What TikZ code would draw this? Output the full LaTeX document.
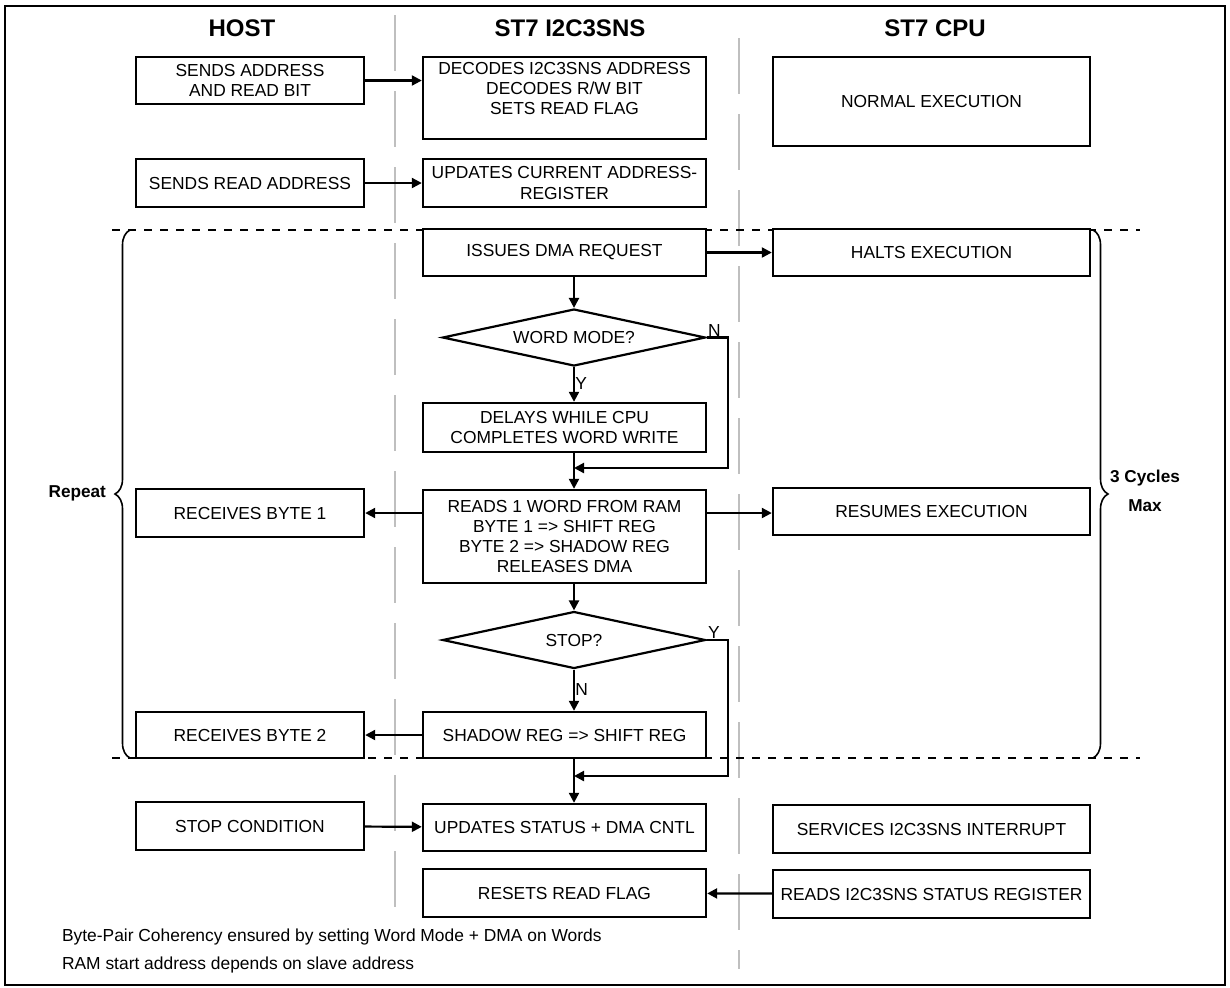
\documentclass[tikz,border=0pt]{standalone}
\usepackage{fontspec}
\setmainfont{Liberation Sans}
\usetikzlibrary{arrows.meta,calc,decorations.pathreplacing,shapes.geometric}
\newcommand{\boxfont}{\fontsize{8.7}{10}\selectfont}
\newcommand{\headfont}{\fontsize{12}{14}\selectfont\bfseries}
\newcommand{\notebf}{\fontsize{8.6}{14.5}\selectfont\bfseries}
\tikzset{
  stepbox/.style={draw, line width=1.2pt, fill=white, align=center, inner sep=2pt, font=\boxfont},
  hostbox/.style={stepbox, minimum width=114pt},
  snsbox/.style={stepbox, minimum width=141.5pt},
  cpubox/.style={stepbox, minimum width=158.5pt},
  decision/.style={diamond, aspect=4.6, draw, line width=1.1pt, fill=white, inner sep=0pt,
    minimum width=131.5pt, minimum height=28.5pt, font=\boxfont},
  flowarr/.style={-{Triangle[length=5pt,width=5pt]}, line width=1.1pt},
  lane/.style={black!25, line width=1pt, dash pattern=on 28pt off 10pt},
  repline/.style={dash pattern=on 4pt off 4pt, line width=1pt},
  bracket/.style={decorate, decoration={brace, amplitude=7.5pt}, line width=0.8pt},
  colhead/.style={font=\headfont},
  yn/.style={font=\boxfont, inner sep=0.5pt},
}

\begin{document}
\begin{tikzpicture}[x=0.5pt, y=-0.5pt]
  \useasboundingbox (0,0) rectangle (1230,987);
  \draw[line width=1.2pt] (5,6) rectangle (1225,985);
  % swim lanes
  \draw[lane] (395,15) -- (395,915);
  \draw[lane] (739,38) -- (739,969);
  \node[colhead] (hhost) at (242,28) {HOST};
  \node[colhead] (hsns) at (570,28) {ST7 I2C3SNS};
  \node[colhead] (hcpu) at (935,28) {ST7 CPU};
  % repeat band
  \coordinate (bandtl) at (112,230);
  \coordinate (bandtr) at (1140,230);
  \coordinate (bandbl) at (112,758);
  \coordinate (bandbr) at (1140,758);
  \draw[repline] (bandtl) -- (bandtr);
  \draw[repline] (bandbl) -- (bandbr);
  \draw[bracket] (130,758) -- (130,230);
  \draw[bracket] (1093,230) -- (1093,758);
  \node[font=\notebf, anchor=east] (rep) at (113,493) {Repeat};
  \node[font=\notebf, align=center] (cyc) at (1145,490.5) {3 Cycles\\Max};

  % address phase
  \node[hostbox, minimum height=23.5pt] (sendaddr) at (250,80.5) {SENDS ADDRESS\\AND READ BIT};
  \node[snsbox, minimum height=41pt] (decode) at (564.5,98)
    {DECODES I2C3SNS ADDRESS\\DECODES R/W BIT\\SETS READ FLAG\\\mbox{}};
  \node[cpubox, minimum height=44.5pt] (normal) at (931.5,101.5) {NORMAL EXECUTION};
  \node[hostbox, minimum height=24pt] (sendread) at (250,183) {SENDS READ ADDRESS};
  \node[snsbox, minimum height=24pt] (updcur) at (564.5,183) {UPDATES CURRENT ADDRESS-\\REGISTER};

  % DMA cycle
  \node[snsbox, minimum height=23.5pt] (issues) at (564.5,252.5) {ISSUES DMA REQUEST};
  \node[cpubox, minimum height=23.5pt] (halts) at (931.5,252.5) {HALTS EXECUTION};
  \node[decision] (d1) at (574,337.5) {WORD MODE?};
  \node[snsbox, minimum height=24.5pt] (delays) at (564.5,427.5) {DELAYS WHILE CPU\\COMPLETES WORD WRITE};
  \node[snsbox, minimum height=46.5pt] (reads) at (564.5,536.5)
    {READS 1 WORD FROM RAM\\BYTE 1 => SHIFT REG\\BYTE 2 => SHADOW REG\\RELEASES DMA};
  \node[hostbox, minimum height=24pt] (recv1) at (250,513) {RECEIVES BYTE 1};
  \node[cpubox, minimum height=23.5pt] (resumes) at (931.5,511.5) {RESUMES EXECUTION};
  \node[decision] (d2) at (574,640) {STOP?};
  \node[snsbox, minimum height=23pt] (shadow) at (564.5,735) {SHADOW REG => SHIFT REG};
  \node[hostbox, minimum height=23pt] (recv2) at (250,735) {RECEIVES BYTE 2};

  % stop phase
  \node[hostbox, minimum height=24pt] (stopc) at (250,826) {STOP CONDITION};
  \node[snsbox, minimum height=23.5pt] (updstat) at (564.5,827.5) {UPDATES STATUS + DMA CNTL};
  \node[cpubox, minimum height=24pt] (services) at (931.5,829) {SERVICES I2C3SNS INTERRUPT};
  \node[snsbox, minimum height=24pt] (resets) at (564.5,893) {RESETS READ FLAG};
  \node[cpubox, minimum height=24pt] (readstat) at (931.5,894) {READS I2C3SNS STATUS REGISTER};

  % notes
  \node[font=\boxfont, anchor=west] (note1) at (55,937) {Byte-Pair Coherency ensured by setting Word Mode + DMA on Words};
  \node[font=\boxfont, anchor=west] (note2) at (55,965) {RAM start address depends on slave address};

  % connectors
  \draw[flowarr] (sendaddr.east) -- (sendaddr.east -| decode.west);
  \draw[flowarr] (sendread) -- (updcur);
  \draw[flowarr] (issues) -- (halts);
  \draw[flowarr] (issues.south -| d1) -- (d1.north);
  \draw[flowarr] (d1.south) -- (delays.north -| d1);
  \node[yn, right] (y1) at ([yshift=-8pt]d1.south) {Y};
  \node[yn, anchor=south west] (n1) at (d1.east) {N};
  \coordinate (j1) at (574,468);
  \draw[flowarr] (delays.south -| d1) -- (reads.north -| d1);
  \draw[flowarr] (d1.east) -- ++(21,0) |- (j1);
  \draw[flowarr] (reads.west |- recv1) -- (recv1.east);
  \draw[flowarr] (reads.east |- recv1) -- (resumes.west |- recv1);
  \draw[flowarr] (reads.south -| d2) -- (d2.north);
  \draw[flowarr] (d2.south) -- (shadow.north -| d2);
  \node[yn, right] (n2) at ([yshift=-10pt]d2.south) {N};
  \node[yn, anchor=south west] (y2) at (d2.east) {Y};
  \coordinate (j2) at (574,776);
  \draw[flowarr] (d2.east) -- ++(21,0) |- (j2);
  \draw[flowarr] (shadow) -- (recv2);
  \draw[flowarr] (shadow.south -| d2) -- (updstat.north -| d2);
  \draw[flowarr] (stopc) -- (updstat);
  \draw[flowarr] (readstat) -- (resets);
\end{tikzpicture}
\end{document}
